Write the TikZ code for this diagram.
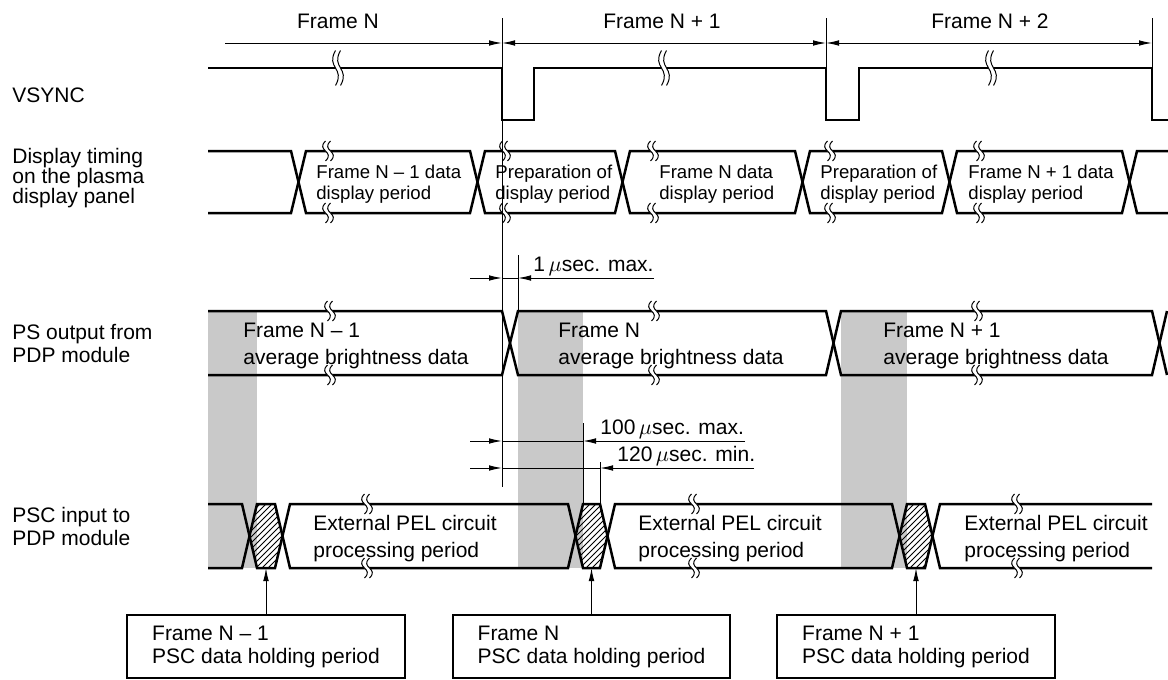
\documentclass[tikz,border=0pt]{standalone}
\usepackage{fontspec}
\setmainfont{Liberation Sans}
\usetikzlibrary{arrows.meta,patterns,positioning}
\definecolor{bandgray}{HTML}{C9C9C9}

\tikzset{
  sig/.style={line width=1.25pt},
  guide/.style={line width=0.5pt},
  dimarr/.style={guide,-{Latex[length=6.5pt,width=2.8pt]}},
  dimboth/.style={guide,{Latex[length=6.5pt,width=2.8pt]}-{Latex[length=6.5pt,width=2.8pt]}},
  txt/.style={anchor=west, align=left, inner sep=0pt, font=\fontsize{10.5}{#1}\selectfont},
  txt/.default=12.6,
  dtxt/.style={anchor=west, align=left, inner sep=0pt, font=\fontsize{9.3}{10.5}\selectfont},
  hdr/.style={anchor=base, inner sep=0pt, font=\fontsize{10.5}{12.6}\selectfont},
  holdbox/.style={draw, line width=1.1pt, align=left, inner xsep=12.5pt, inner ysep=0pt,
    minimum height=31.5pt, font=\fontsize{10.5}{11.5}\selectfont},
}

% break mark: x, y, half height
\newcommand{\brkmark}[3]{%
  \fill[white] ({#1-2.5},{#2-#3}) .. controls ({#1-12.5},#2) and ({#1+7.5},#2) .. ({#1-2.5},{#2+#3})
    -- ({#1+2.5},{#2+#3}) .. controls ({#1+12.5},#2) and ({#1-7.5},#2) .. ({#1+2.5},{#2-#3}) -- cycle;
  \draw[guide] ({#1-2.5},{#2-#3}) .. controls ({#1-12.5},#2) and ({#1+7.5},#2) .. ({#1-2.5},{#2+#3});
  \draw[guide] ({#1+2.5},{#2-#3}) .. controls ({#1-7.5},#2) and ({#1+12.5},#2) .. ({#1+2.5},{#2+#3});
}

\begin{document}
\begin{tikzpicture}[x=0.5pt,y=-0.5pt]
  \useasboundingbox (0,0) rectangle (1168,680);

  % grey bands and hatched hold periods
  \foreach \a/\b in {208/257,518/583,841/907}
    \fill[bandgray] (\a,311) rectangle (\b,568);
  \foreach \a/\b/\c/\d in {242/257/275/290,568/583/600/615,892/907/925/940}
    \fill[pattern=north east lines] ({(\a+\b)/2},536) -- (\b,504) -- (\c,504) -- ({(\c+\d)/2},536) -- (\c,568) -- (\b,568) -- cycle;

  % VSYNC
  \draw[sig] (208,68) -- (502,68) -- (502,120) -- (534,120) -- (534,68) -- (826,68) -- (826,120) -- (859,120) -- (859,68) -- (1152,68) -- (1152,120) -- (1168,120);

  % display timing
  \draw[sig] (208,151) -- (291,151) -- (306,213) -- (470,213) -- (485,151) -- (615,151) -- (630,213) -- (795,213) -- (810,151) -- (942,151) -- (957,213) -- (1122,213) -- (1137,151) -- (1168,151);
  \draw[sig] (208,213) -- (291,213) -- (306,151) -- (470,151) -- (485,213) -- (615,213) -- (630,151) -- (795,151) -- (810,213) -- (942,213) -- (957,151) -- (1122,151) -- (1137,213) -- (1168,213);

  % PS output
  \draw[sig] (208,311) -- (502,311) -- (518,375) -- (826,375) -- (841,311) -- (1152,311) -- (1167,375);
  \draw[sig] (208,375) -- (502,375) -- (518,311) -- (826,311) -- (841,375) -- (1152,375) -- (1167,311);

  % PSC input
  \draw[sig] (208,504) -- (242,504) -- (257,568) -- (275,568) -- (290,504) -- (568,504) -- (583,568) -- (600,568) -- (615,504) -- (892,504) -- (907,568) -- (925,568) -- (940,504) -- (1152,504);
  \draw[sig] (208,568) -- (242,568) -- (257,504) -- (275,504) -- (290,568) -- (568,568) -- (583,504) -- (600,504) -- (615,568) -- (892,568) -- (907,504) -- (925,504) -- (940,568) -- (1152,568);

  % break marks
  \foreach \x in {338,664,991} {\brkmark{\x}{68}{17.5}}
  \foreach \x in {328,505,653,830,979} {\brkmark{\x}{151}{10} \brkmark{\x}{213}{10}}
  \foreach \x in {330,654,977} {\brkmark{\x}{311}{10} \brkmark{\x}{375}{10}}
  \foreach \x in {367,694,1017} {\brkmark{\x}{504}{10} \brkmark{\x}{568}{10}}

  % row labels
  \node[txt] (vsync) at (12,95) {VSYNC};
  \node[txt=10] (disp) at (12,178) {Display timing\\on the plasma\\display panel};
  \node[txt=11.5] (psout) at (12,343.5) {PS output from\\PDP module};
  \node[txt=11.5] (pscin) at (12,526.5) {PSC input to\\PDP module};

  % frames
  \node[hdr] (frN) at (338,28) {Frame N};
  \node[hdr] (frN1) at (662,28) {Frame N + 1};
  \node[hdr] (frN2) at (990,28) {Frame N + 2};
  \draw[guide] (502,18) -- (502,487);
  \draw[guide] (826,18) -- (826,120);
  \draw[guide] (1152,18) -- (1152,120);
  \draw[dimarr] (225,43) -- (502,43);
  \draw[dimboth] (502,43) -- (826,43);
  \draw[dimboth] (826,43) -- (1152,43);

  % data periods
  \node[dtxt] (dp1) at (316,184) {Frame N – 1 data\\display period};
  \node[dtxt] (dp2) at (495,184) {Preparation of\\display period};
  \node[dtxt] (dp3) at (659,184) {Frame N data\\display period};
  \node[dtxt] (dp4) at (820,184) {Preparation of\\display period};
  \node[dtxt] (dp5) at (968,184) {Frame N + 1 data\\display period};
  \node[txt=13.5] (ps1) at (243,345.5) {Frame N – 1\\average brightness data};
  \node[txt=13.5] (ps2) at (558,345.5) {Frame N\\average brightness data};
  \node[txt=13.5] (ps3) at (883,345.5) {Frame N + 1\\average brightness data};
  \node[txt=13.5] (pel1) at (313,538.5) {External PEL circuit\\processing period};
  \node[txt=13.5] (pel2) at (638,538.5) {External PEL circuit\\processing period};
  \node[txt=13.5] (pel3) at (964,538.5) {External PEL circuit\\processing period};

  % timing limits
  \draw[guide] (518,255) -- (518,311);
  \draw[dimarr] (470,278) -- (502,278);
  \draw[guide] (502,278) -- (518,278);
  \draw[dimarr] (654,278) -- (518,278);
  \node[hdr, anchor=base west] (lim1) at (533,271) {1\,$\mu$sec. max.};
  \draw[guide] (583,423) -- (583,504);
  \draw[dimarr] (470,441) -- (502,441);
  \draw[guide] (502,441) -- (583,441);
  \draw[dimarr] (745,441) -- (583,441);
  \node[hdr, anchor=base west] (lim2) at (600,434) {100\,$\mu$sec. max.};
  \draw[guide] (600,462) -- (600,504);
  \draw[dimarr] (470,468) -- (502,468);
  \draw[guide] (502,468) -- (600,468);
  \draw[dimarr] (754,468) -- (600,468);
  \node[hdr, anchor=base west] (lim3) at (617,461) {120\,$\mu$sec. min.};

  % hold period boxes
  \node[holdbox] (hold1) at (266,646.5) {Frame N – 1\\PSC data holding period};
  \node[holdbox] (hold2) at (591.5,646.5) {Frame N\\PSC data holding period};
  \node[holdbox] (hold3) at (916,646.5) {Frame N + 1\\PSC data holding period};
  \coordinate (hz1) at (266,568);
  \coordinate (hz2) at (591.5,568);
  \coordinate (hz3) at (916,568);
  \draw[dimarr] (hold1) -- (hz1);
  \draw[dimarr] (hold2) -- (hz2);
  \draw[dimarr] (hold3) -- (hz3);
\end{tikzpicture}
\end{document}
